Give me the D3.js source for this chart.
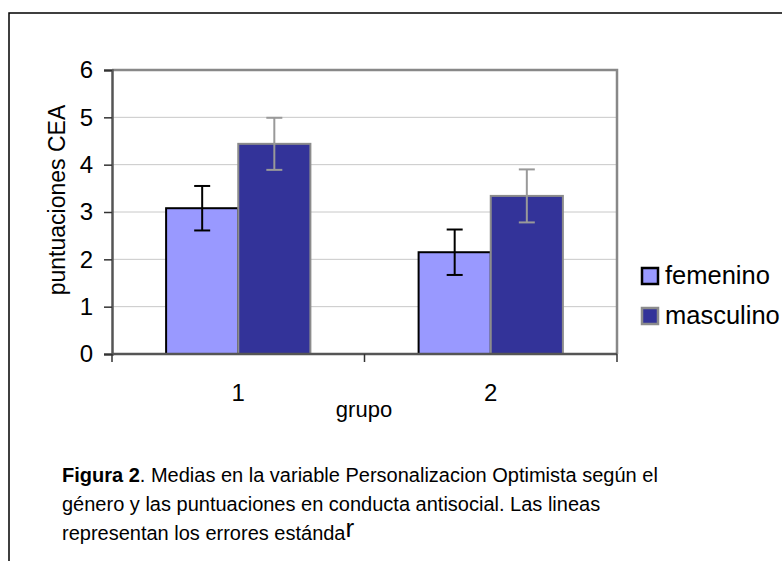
<!DOCTYPE html>
<html>
<head>
<meta charset="utf-8">
<script src="https://cdn.jsdelivr.net/npm/d3@7"></script>
<style>
  body { margin: 0; background: #fff; }
  svg { display: block; font-family: "Liberation Sans", Arial, sans-serif; }
</style>
</head>
<body>
<div id="chart"></div>
<script>
const groups = ["1", "2"];
const series = ["femenino", "masculino"];
const femenino = [3.08, 2.15];
const masculino = [4.44, 3.34];
const femeninoErr = [0.47, 0.48];
const masculinoErr = [0.55, 0.56];
const yTicks = [0, 1, 2, 3, 4, 5, 6];
const captionLines = [
  ["Figura 2", ". Medias en la variable Personalizacion Optimista según el"],
  ["", "género y las puntuaciones en conducta antisocial. Las lineas"],
  ["", "representan los errores estánda"]
];

const width = 782, height = 561;
const plot = { left: 112, right: 617, top: 70, bottom: 354 };

const fills = ["#9999ff", "#333399"];
const strokes = ["#000000", "#8c8c8c"];
const errColors = ["#000000", "#999999"];

const svg = d3.select("#chart").append("svg")
  .attr("width", width).attr("height", height);

// outer frame (only top and left visible)
svg.append("path")
  .attr("d", `M9,${height} V13 H${width}`)
  .attr("fill", "none").attr("stroke", "#000").attr("stroke-width", 1.5);

const x0 = d3.scaleBand().domain(groups).range([plot.left, plot.right]);
const x1 = d3.scaleBand().domain(series).range([0, x0.bandwidth()])
  .paddingInner(0).paddingOuter(0.75);
const y = d3.scaleLinear().domain([0, 6]).range([plot.bottom, plot.top]);

// gridlines
svg.append("g").selectAll("line")
  .data(yTicks.filter(d => d > 0 && d < 6))
  .join("line")
  .attr("x1", plot.left).attr("x2", plot.right)
  .attr("y1", d => y(d)).attr("y2", d => y(d))
  .attr("stroke", "#c8c8c8").attr("stroke-width", 1);

// top and right border of plot area
svg.append("path")
  .attr("d", `M${plot.left},${y(6)} H${plot.right} V${plot.bottom}`)
  .attr("fill", "none").attr("stroke", "#888").attr("stroke-width", 2.5);

const rows = groups.map((g, i) => ({
  group: g,
  values: [
    { key: series[0], i: 0, v: femenino[i], e: femeninoErr[i] },
    { key: series[1], i: 1, v: masculino[i], e: masculinoErr[i] }
  ]
}));

const gGroups = svg.append("g").selectAll("g")
  .data(rows).join("g")
  .attr("transform", d => `translate(${x0(d.group)},0)`);

gGroups.selectAll("rect")
  .data(d => d.values).join("rect")
  .attr("x", d => x1(d.key))
  .attr("width", x1.bandwidth())
  .attr("y", d => y(d.v))
  .attr("height", d => y(0) - y(d.v))
  .attr("fill", d => fills[d.i])
  .attr("stroke", d => strokes[d.i])
  .attr("stroke-width", 2);

// error bars
const capW = 8;
const err = gGroups.selectAll("g.err")
  .data(d => d.values).join("g").attr("class", "err")
  .attr("stroke", d => errColors[d.i]).attr("stroke-width", 2);
err.append("line")
  .attr("x1", d => x1(d.key) + x1.bandwidth() / 2)
  .attr("x2", d => x1(d.key) + x1.bandwidth() / 2)
  .attr("y1", d => y(d.v + d.e)).attr("y2", d => y(d.v - d.e));
err.append("line")
  .attr("x1", d => x1(d.key) + x1.bandwidth() / 2 - capW)
  .attr("x2", d => x1(d.key) + x1.bandwidth() / 2 + capW)
  .attr("y1", d => y(d.v + d.e)).attr("y2", d => y(d.v + d.e));
err.append("line")
  .attr("x1", d => x1(d.key) + x1.bandwidth() / 2 - capW)
  .attr("x2", d => x1(d.key) + x1.bandwidth() / 2 + capW)
  .attr("y1", d => y(d.v - d.e)).attr("y2", d => y(d.v - d.e));

// y axis
const yAxis = svg.append("g")
  .attr("transform", `translate(${plot.left},0)`)
  .call(d3.axisLeft(y).tickValues(yTicks).tickSize(8).tickPadding(11).tickFormat(d3.format("d")));
yAxis.attr("font-size", null).attr("font-family", null);
yAxis.select(".domain").attr("stroke", "#555").attr("stroke-width", 2.5);
yAxis.selectAll(".tick line").attr("stroke", "#333").attr("stroke-width", 1.5);
yAxis.selectAll(".tick text").style("font-size", "24px").attr("fill", "#000");

// x axis
svg.append("line")
  .attr("x1", plot.left).attr("x2", plot.right)
  .attr("y1", plot.bottom).attr("y2", plot.bottom)
  .attr("stroke", "#555").attr("stroke-width", 2.5);
const xBounds = [plot.left, ...groups.map(g => x0(g) + x0.bandwidth())];
svg.append("g").selectAll("line")
  .data(xBounds).join("line")
  .attr("x1", d => d).attr("x2", d => d)
  .attr("y1", plot.bottom).attr("y2", plot.bottom + 8)
  .attr("stroke", "#333").attr("stroke-width", 1.5);
svg.append("g").selectAll("text")
  .data(groups).join("text")
  .attr("x", d => x0(d) + x0.bandwidth() / 2)
  .attr("y", 401)
  .attr("text-anchor", "middle")
  .attr("font-size", 24)
  .text(d => d);

// axis titles
svg.append("text")
  .attr("x", 364).attr("y", 417)
  .attr("text-anchor", "middle")
  .attr("font-size", 22)
  .text("grupo");
svg.append("text")
  .attr("transform", `translate(65,200) rotate(-90)`)
  .attr("text-anchor", "middle")
  .attr("font-size", 23)
  .text("puntuaciones CEA");

// legend
const legend = svg.append("g").attr("transform", "translate(641,267)");
const li = legend.selectAll("g").data(series).join("g")
  .attr("transform", (d, i) => `translate(0,${i * 40})`);
li.append("rect")
  .attr("x", 1).attr("y", 1).attr("width", 16).attr("height", 16)
  .attr("fill", (d, i) => fills[i])
  .attr("stroke", (d, i) => i === 0 ? "#000" : "#8c8c8c")
  .attr("stroke-width", 2.5);
li.append("text")
  .attr("x", 24).attr("y", 17)
  .attr("font-size", 25.5)
  .text(d => d);

// caption
const cap = svg.append("g");
captionLines.forEach((line, i) => {
  const t = cap.append("text")
    .attr("x", 62).attr("y", 482 + i * 29)
    .attr("font-size", 20);
  if (line[0]) t.append("tspan").attr("font-weight", "bold").text(line[0]);
  t.append("tspan").text(line[1]);
  if (i === 2) t.append("tspan").attr("font-size", 26).attr("dy", -3).text("r");
});
</script>
</body>
</html>
